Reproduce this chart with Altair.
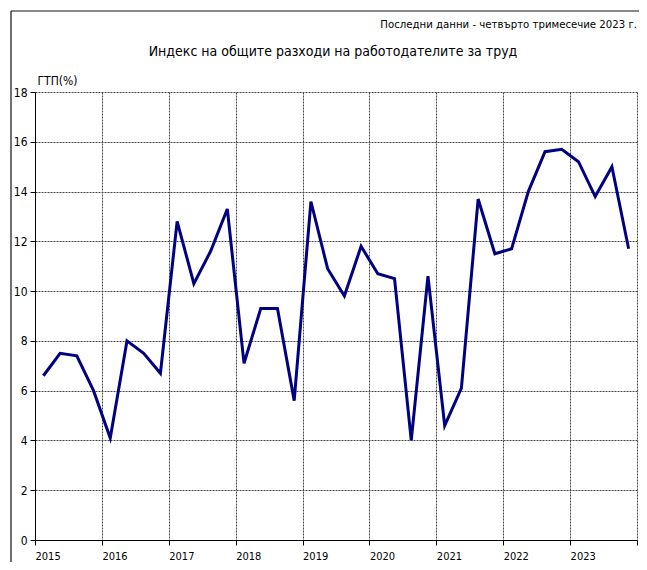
import altair as alt
import pandas as pd

years = [2015, 2016, 2017, 2018, 2019, 2020, 2021, 2022, 2023]
values = [
    6.6, 7.5, 7.4, 6.0,
    4.1, 8.0, 7.5, 6.7,
    12.8, 10.3, 11.6, 13.3,
    7.1, 9.3, 9.3, 5.6,
    13.6, 10.9, 9.8, 11.8,
    10.7, 10.5, 4.0, 10.6,
    4.6, 6.1, 13.7, 11.5,
    11.7, 14.0, 15.6, 15.7,
    15.2, 13.8, 15.0, 11.7,
]
quarters = [1, 2, 3, 4]
title_text = "Индекс на общите разходи на работодателите за труд"
subtitle_text = "Последни данни - четвърто тримесечие 2023 г."
y_title = "ГТП(%)"

rows = []
i = 0
for yr in years:
    for q in quarters:
        rows.append({"t": yr + (q - 0.5) / 4, "v": values[i]})
        i += 1
df = pd.DataFrame(rows)

FONT = "DejaVu Sans Condensed"
W, H = 602, 448

xscale = alt.Scale(domain=[2015, 2024], nice=False, zero=False)
yscale = alt.Scale(domain=[0, 18], nice=False)

line = alt.Chart(df).mark_line(color="#000080", strokeWidth=3, strokeJoin="miter").encode(
    x=alt.X("t:Q", scale=xscale, axis=alt.Axis(
        values=years + [2024], title=None, labelExpr="datum.value == 2024 ? '' : datum.value",
        format="d", labelAlign="left", labelPadding=5, labelFont=FONT, labelFontSize=11,
        labelColor="#000", domainColor="#000", tickColor="#000", tickSize=5,
        grid=True, gridColor="#444", gridDash=[2, 1], gridWidth=1, labelFlush=False)),
    y=alt.Y("v:Q", scale=yscale, axis=alt.Axis(
        values=[0, 2, 4, 6, 8, 10, 12, 14, 16, 18], title=y_title, titleAngle=0,
        titleX=2, titleY=-12, titleAlign="left", titleBaseline="middle", titleFont=FONT,
        titleFontSize=12, titleFontWeight="normal", titleColor="#000", labelFont=FONT,
        labelFontSize=12, labelColor="#000", domainColor="#000", tickColor="#000", tickSize=5,
        labelPadding=3, grid=True, gridColor="#444", gridDash=[2, 1], gridWidth=1)),
)

frame_data = pd.DataFrame({"f": [1]})
text_data = pd.DataFrame({"label": [title_text]})
sub_data = pd.DataFrame({"label": [subtitle_text]})

f_top = alt.Chart(frame_data).mark_rule(color="#111", strokeWidth=1.2).encode(
    x=alt.value(-24), x2=alt.value(605), y=alt.value(-81))
f_left = alt.Chart(frame_data).mark_rule(color="#111", strokeWidth=1.2).encode(
    x=alt.value(-24), y=alt.value(-81), y2=alt.value(470))
f_outer = alt.Chart(frame_data).mark_rule(color="#111", strokeWidth=1.2).encode(
    x=alt.value(-32), y=alt.value(-81), y2=alt.value(470))
t_title = alt.Chart(text_data).mark_text(font=FONT, fontSize=14, align="center",
                                         baseline="middle", color="#000").encode(
    text="label:N", x=alt.value(W / 2 - 3), y=alt.value(-40))
t_sub = alt.Chart(sub_data).mark_text(font=FONT, fontSize=11.3, align="right",
                                      baseline="middle", color="#000").encode(
    text="label:N", x=alt.value(W), y=alt.value(-67))

chart = alt.layer(f_top, f_left, f_outer, t_title, t_sub, line).properties(
    width=W, height=H,
    autosize=alt.AutoSizeParams(type="none"),
    padding={"left": 27, "top": 84, "right": 2, "bottom": 22},
).configure_view(stroke=None)

chart.save("out.html", embed_options={"renderer": "svg", "actions": False})
